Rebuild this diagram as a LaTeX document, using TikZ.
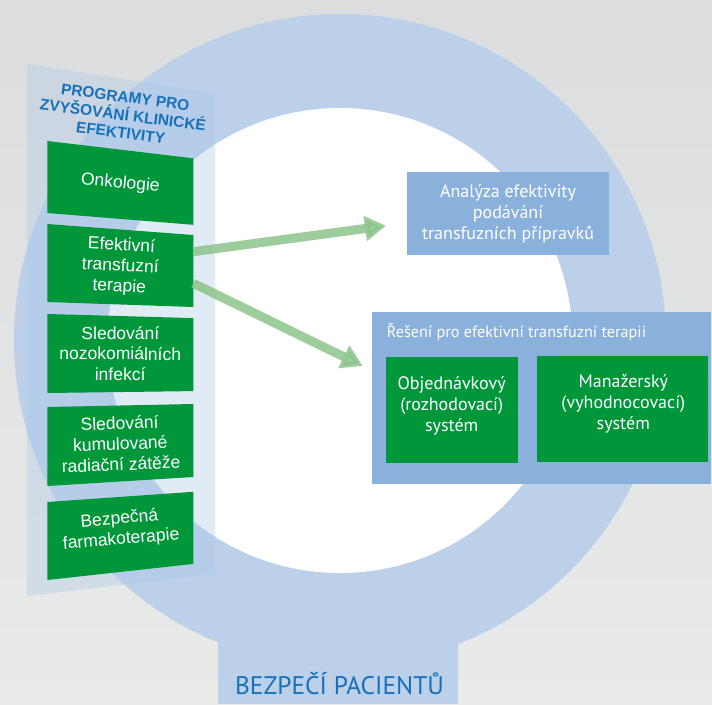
\documentclass[tikz,border=0pt]{standalone}
\usepackage{fontspec}
\setmainfont{Liberation Sans}
\newfontfamily\myr{PT Sans}
\usetikzlibrary{arrows.meta}
\definecolor{bgtop}{RGB}{219,221,222}
\definecolor{bgbot}{RGB}{233,234,234}
\definecolor{ring}{RGB}{188,208,234}
\definecolor{panelc}{RGB}{170,200,230}
\definecolor{grn}{RGB}{0,150,58}
\definecolor{bbox}{RGB}{138,176,220}
\definecolor{ttl}{RGB}{22,112,186}
\definecolor{arr}{RGB}{140,196,140}
\begin{document}
\begin{tikzpicture}[x=1pt,y=-1pt,
  gbox/.style={fill=grn},
  ltxt/.style={text=white, align=center, inner sep=0pt, font=\fontsize{17.5}{20.5}\selectfont},
  rtxt/.style={text=white, align=center, inner sep=0pt, font=\myr\fontsize{18}{21}\selectfont},
  bluebox/.style={fill=bbox, inner sep=0pt, draw=none},
  greenbox/.style={fill=grn, inner sep=0pt, draw=none},
  linkarrow/.style={draw=arr, line width=9pt, opacity=0.85, -{Triangle[width=24pt,length=21pt]}}]
\useasboundingbox (0,0) rectangle (712,704);
% background
\fill[top color=bgtop, bottom color=bgbot] (0,0) rectangle (712,704);
% ring
\fill[ring] (340,340) circle[radius=326pt];
\fill[ring] (218,600) rectangle (458,704);
\fill[white] (340,340.5) circle[radius=232.5pt];
% panel
\fill[panelc, opacity=0.35] (27,64) -- (215,93.4) -- (215,574) -- (27,596) -- cycle;
% green boxes on the panel
\fill[gbox] (47.3,141) -- (193.3,158.3) -- (193.3,224.8) -- (47.3,213) -- cycle;
\fill[gbox] (47.3,224) -- (193.3,235) -- (193.3,307) -- (47.3,302) -- cycle;
\fill[gbox] (47.3,314) -- (193.3,318.1) -- (193.3,391.1) -- (47.3,393) -- cycle;
\fill[gbox] (47.3,407) -- (193.3,404) -- (193.3,477) -- (47.3,486) -- cycle;
\fill[gbox] (47.3,502) -- (193.3,491.8) -- (193.3,563.9) -- (47.3,580) -- cycle;
% title
\node[text=ttl, align=center, inner sep=0pt, rotate=-7.5,
  font=\bfseries\fontsize{15.5}{18}\selectfont] (title) at (123,115)
  {PROGRAMY PRO\\ZVYŠOVÁNÍ KLINICKÉ\\EFEKTIVITY};
% box texts
\node[ltxt, rotate=-5.5] (b1) at (120.3,183.5) {Onkologie};
\node[ltxt, rotate=-3.0] (b2) at (120.3,266.5) {Efektivní\\transfuzní\\terapie};
\node[ltxt, rotate=-0.4] (b3) at (120.3,353.5) {Sledování\\nozokomiálních\\infekcí};
\node[ltxt, rotate=2.2] (b4) at (120.3,443.5) {Sledování\\kumulované\\radiační zátěže};
\node[ltxt, rotate=4.9] (b5) at (120.3,529.5) {Bezpečná\\farmakoterapie};
% right side
\node[bluebox, minimum width=202.6pt, minimum height=83.3pt] (analyza) at (508,213.3) {};
\node[rtxt] (analyzat) at (508,214) {Analýza efektivity\\podávání\\transfuzních přípravků};
\node[bluebox, anchor=north west, minimum width=339pt, minimum height=172pt] (reseni) at (372,312) {};
\node[text=white, anchor=west, inner sep=0pt, font=\myr\fontsize{16.2}{20}\selectfont] (resenit) at (386.7,331.7) {Řešení pro efektivní transfuzní terapii};
\node[greenbox, minimum width=131.7pt, minimum height=105.4pt] (obj) at (451.85,410) {};
\node[rtxt] (objt) at (451.7,406) {Objednávkový\\(rozhodovací)\\systém};
\node[greenbox, minimum width=171pt, minimum height=105.7pt] (man) at (622.2,408.85) {};
\node[rtxt] (mant) at (623.3,404) {Manažerský\\(vyhodnocovací)\\systém};
% arrows
\coordinate (a1s) at (193.3,251.7);
\coordinate (a1e) at (386,225.7);
\coordinate (a2s) at (193.3,283.3);
\coordinate (a2e) at (362.7,366);
\draw[linkarrow] (a1s) -- (a1e);
\draw[linkarrow] (a2s) -- (a2e);
% bottom label
\node[text=ttl, inner sep=0pt, font=\myr\fontsize{25.4}{30}\selectfont] (bezpeci) at (339.5,684) {BEZPEČÍ PACIENTŮ};
\end{tikzpicture}
\end{document}
